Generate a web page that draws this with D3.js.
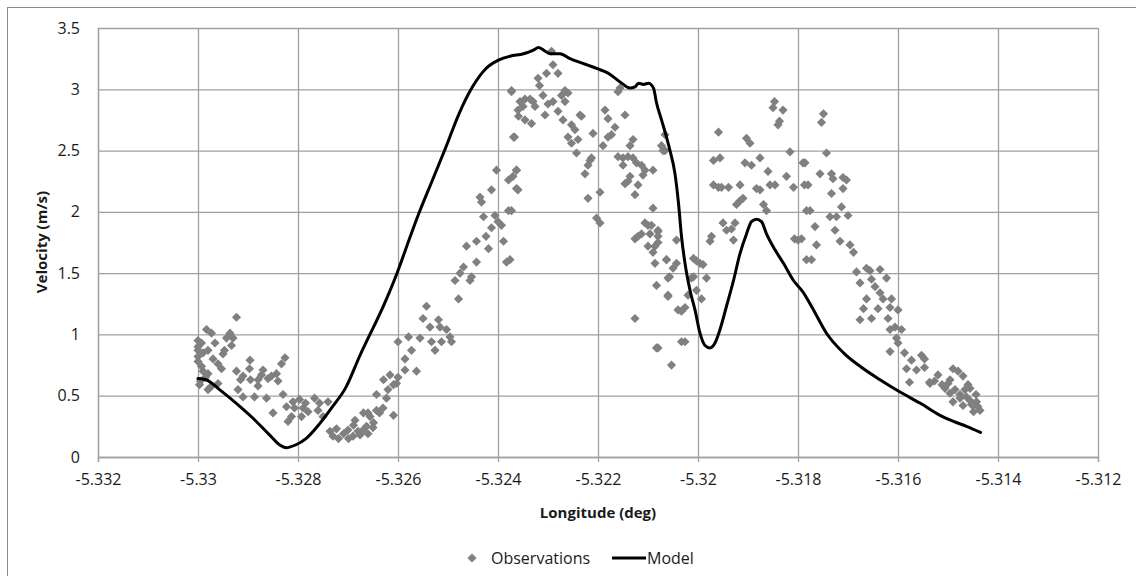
<!DOCTYPE html>
<html><head><meta charset="utf-8">
<script src="https://cdn.jsdelivr.net/npm/d3@7"></script>
<style>
html,body{margin:0;padding:0;background:#fff;}
svg{display:block;font-family:"Open Sans",sans-serif;}
</style></head>
<body>
<svg id="chart" width="1136" height="576"></svg>
<script>
const xTicks = [-5.332,-5.33,-5.328,-5.326,-5.324,-5.322,-5.32,-5.318,-5.316,-5.314,-5.312];
const xTickLabels = ["-5.332","-5.33","-5.328","-5.326","-5.324","-5.322","-5.32","-5.318","-5.316","-5.314","-5.312"];
const yTicks = [0,0.5,1,1.5,2,2.5,3,3.5];
const yTickLabels = ["0","0.5","1","1.5","2","2.5","3","3.5"];
const xTitle = "Longitude (deg)";
const yTitle = "Velocity (m/s)";
const seriesNames = ["Observations","Model"];

// Observations: [longitude, velocity]
const observations = [
[-5.32923,1.14],[-5.32983,1.04],[-5.32973,1.01],[-5.32936,1.01],[-5.32943,0.97],[-5.32930,0.97],[-5.32993,0.93],[-5.32966,0.93],[-5.32933,0.91],[-5.33000,0.87],[-5.32980,0.87],[-5.32947,0.87],[-5.33000,0.82],[-5.32970,0.80],[-5.32896,0.79],[-5.32826,0.81],[-5.32833,0.76],[-5.32993,0.74],[-5.32953,0.72],[-5.32923,0.70],[-5.32897,0.72],[-5.32980,0.68],[-5.32873,0.67],[-5.32853,0.66],[-5.32843,0.68],[-5.32860,0.64],[-5.32915,0.63],[-5.32895,0.63],[-5.32880,0.63],[-5.32997,0.59],[-5.32960,0.60],[-5.32920,0.55],[-5.32880,0.58],[-5.32980,0.55],[-5.32910,0.49],[-5.32887,0.49],[-5.32863,0.48],[-5.32830,0.51],[-5.32797,0.47],[-5.32767,0.48],[-5.32850,0.36],[-5.32823,0.41],[-5.32807,0.40],[-5.32790,0.40],[-5.32813,0.33],[-5.32793,0.33],[-5.32780,0.37],[-5.32757,0.44],[-5.32750,0.33],[-5.32820,0.29],[-5.32740,0.45],[-5.32760,0.38],
[-5.33000,0.95],[-5.33000,0.90],[-5.32990,0.85],[-5.33000,0.78],[-5.32990,0.70],[-5.32985,0.65],[-5.32995,0.62],[-5.32975,0.57],[-5.32960,0.76],[-5.32950,0.84],[-5.32910,0.66],[-5.32870,0.71],[-5.32840,0.62],[-5.32810,0.45],[-5.32785,0.44],
[-5.32736,0.21],[-5.32723,0.23],[-5.32709,0.19],[-5.32699,0.15],[-5.32689,0.26],[-5.32676,0.18],[-5.32660,0.36],[-5.32663,0.25],[-5.32719,0.15],[-5.32686,0.30],[-5.32680,0.21],[-5.32669,0.36],[-5.32656,0.33],[-5.32649,0.28],[-5.32660,0.19],[-5.32643,0.38],[-5.32637,0.36],[-5.32609,0.34],[-5.32643,0.51],[-5.32623,0.48],[-5.32629,0.63],[-5.32616,0.67],[-5.32603,0.60],[-5.32609,0.59],
[-5.32730,0.17],[-5.32700,0.22],[-5.32690,0.17],[-5.32670,0.22],[-5.32650,0.24],[-5.32630,0.40],[-5.32620,0.55],[-5.32600,0.65],
[-5.32600,0.94],[-5.32579,0.98],[-5.32586,0.80],[-5.32573,0.87],[-5.32586,0.71],[-5.32563,0.70],[-5.32556,0.97],[-5.32550,1.13],[-5.32543,1.23],[-5.32536,1.06],[-5.32533,0.94],[-5.32526,0.87],[-5.32519,1.12],[-5.32516,1.06],[-5.32513,0.94],[-5.32503,1.04],[-5.32496,0.98],[-5.32493,0.94],[-5.32479,1.29],[-5.32486,1.44],[-5.32476,1.50],[-5.32469,1.55],[-5.32463,1.72],[-5.32456,1.44],[-5.32453,1.47],[-5.32443,1.59],[-5.32443,1.76],[-5.32436,2.12],[-5.32433,2.08],[-5.32429,1.96],[-5.32424,1.80],[-5.32419,1.70],[-5.32413,2.18],[-5.32413,1.87],[-5.32406,1.97],[-5.32403,2.34],[-5.32400,1.92],[-5.32393,1.89],[-5.32389,1.76],[-5.32383,1.59],[-5.32379,2.01],[-5.32379,2.26],[-5.32373,2.98],[-5.32369,2.61],[-5.32363,2.34],[-5.32359,2.78],[-5.32363,2.19],
[-5.32293,3.31],[-5.32290,3.20],[-5.32280,3.13],[-5.32303,3.13],[-5.32320,3.09],[-5.32317,3.03],[-5.32373,2.99],[-5.32310,2.95],[-5.32266,2.99],[-5.32260,2.97],[-5.32273,2.95],[-5.32290,2.90],[-5.32300,2.88],[-5.32356,2.90],[-5.32346,2.92],[-5.32336,2.92],[-5.32330,2.90],[-5.32326,2.86],[-5.32350,2.86],[-5.32360,2.83],[-5.32266,2.90],[-5.32280,2.82],[-5.32306,2.79],[-5.32346,2.75],[-5.32333,2.72],[-5.32270,2.75],[-5.32253,2.71],[-5.32233,2.78],[-5.32236,2.79],[-5.32246,2.67],[-5.32260,2.61],[-5.32253,2.56],[-5.32240,2.59],[-5.32243,2.48],[-5.32210,2.64],[-5.32186,2.83],[-5.32180,2.76],[-5.32166,2.69],[-5.32173,2.63],[-5.32180,2.61],[-5.32190,2.54],[-5.32213,2.44],[-5.32216,2.42],[-5.32220,2.38],[-5.32226,2.31],[-5.32367,2.61],[-5.32363,2.34],[-5.32370,2.29],[-5.32360,2.18],[-5.32373,2.01],[-5.32376,1.61],[-5.32220,2.11],[-5.32196,2.16],[-5.32203,1.95],[-5.32196,1.91],[-5.32156,3.01],[-5.32160,2.98],[-5.32146,2.79],[-5.32130,2.59],[-5.32136,2.54],[-5.32160,2.45],[-5.32150,2.44],[-5.32140,2.45],[-5.32130,2.44],[-5.32150,2.38],[-5.32123,2.40],[-5.32113,2.38],[-5.32106,2.34],[-5.32090,2.34],[-5.32110,2.30],[-5.32136,2.29],[-5.32140,2.25],[-5.32146,2.23],[-5.32120,2.22],[-5.32126,2.14],[-5.32066,2.63],[-5.32073,2.54],[-5.32066,2.50],[-5.32090,2.03],[-5.32106,1.91],[-5.32100,1.89],[-5.32093,1.89],[-5.32080,1.85],[-5.32113,1.82],[-5.32126,1.78],[-5.32120,1.80],[-5.32096,1.82],[-5.32100,1.72],[-5.32086,1.72],[-5.32080,1.75],[-5.32090,1.67],[-5.32086,1.58],[-5.32063,1.61],[-5.32060,1.46],[-5.32083,1.40],[-5.32060,1.31],[-5.32126,1.13],[-5.32083,0.89],
[-5.32070,2.50],[-5.32080,1.84],[-5.32080,1.80],[-5.32043,1.77],[-5.32063,1.61],[-5.32043,1.58],[-5.32050,1.54],[-5.32057,1.47],[-5.32009,1.62],[-5.32003,1.60],[-5.31996,1.58],[-5.31990,1.57],[-5.32009,1.47],[-5.32013,1.46],[-5.31983,1.46],[-5.32060,1.32],[-5.32020,1.32],[-5.32003,1.36],[-5.31993,1.29],[-5.32040,1.20],[-5.32033,1.19],[-5.32026,1.22],[-5.32033,0.94],[-5.32026,0.94],[-5.32053,0.75],[-5.32080,0.89],[-5.31959,2.65],[-5.31969,2.42],[-5.31956,2.44],[-5.31969,2.22],[-5.31959,2.20],[-5.31953,2.20],[-5.31939,2.20],[-5.31916,2.22],[-5.31950,1.91],[-5.31943,1.85],[-5.31933,1.86],[-5.31926,1.91],[-5.31929,1.77],[-5.31976,1.76],[-5.31973,1.80],[-5.31923,2.06],[-5.31916,2.09],[-5.31910,2.11],[-5.31903,2.60],[-5.31896,2.56],[-5.31906,2.40],[-5.31893,2.38],[-5.31876,2.44],[-5.31860,2.33],[-5.31883,2.19],[-5.31876,2.18],[-5.31869,2.06],[-5.31863,2.01],[-5.31856,2.22],[-5.31846,2.22],[-5.31847,2.90],[-5.31850,2.85],[-5.31830,2.83],[-5.31837,2.74],[-5.31840,2.71],[-5.31816,2.49],[-5.31823,2.29],[-5.31809,2.20],[-5.31807,1.78],[-5.31800,1.77],[-5.31790,2.40],[-5.31787,2.22],[-5.31783,2.01],[-5.31783,1.61],
[-5.31749,2.80],[-5.31753,2.73],[-5.31743,2.48],[-5.31786,2.40],[-5.31756,2.31],[-5.31733,2.31],[-5.31730,2.27],[-5.31710,2.28],[-5.31703,2.26],[-5.31780,2.22],[-5.31710,2.19],[-5.31733,2.15],[-5.31776,2.01],[-5.31713,2.04],[-5.31736,1.96],[-5.31723,1.96],[-5.31700,1.97],[-5.31766,1.88],[-5.31726,1.85],[-5.31793,1.78],[-5.31716,1.76],[-5.31763,1.73],[-5.31696,1.73],[-5.31689,1.67],[-5.31773,1.61],[-5.31683,1.51],[-5.31663,1.54],[-5.31656,1.52],[-5.31636,1.53],[-5.31676,1.42],[-5.31653,1.45],[-5.31646,1.39],[-5.31623,1.46],[-5.31636,1.34],[-5.31663,1.29],[-5.31630,1.29],[-5.31613,1.29],[-5.31669,1.21],[-5.31640,1.21],[-5.31616,1.22],[-5.31600,1.20],[-5.31676,1.12],[-5.31653,1.13],[-5.31620,1.13],[-5.31616,1.04],[-5.31606,1.06],[-5.31593,1.04],[-5.31603,0.97],[-5.31600,0.93],[-5.31616,0.86],[-5.31587,0.85],[-5.31573,0.79],[-5.31553,0.83],[-5.31583,0.72],[-5.31563,0.71],[-5.31547,0.73],[-5.31577,0.61],[-5.31537,0.61],[-5.31527,0.62],[-5.31547,0.80],
[-5.31536,0.60],[-5.31506,0.56],[-5.31496,0.52],[-5.31490,0.45],[-5.31476,0.48],[-5.31463,0.49],[-5.31456,0.56],[-5.31443,0.45],[-5.31436,0.38],[-5.31449,0.37],[-5.31453,0.43],
[-5.31512,0.59],[-5.31496,0.63],[-5.31486,0.55],[-5.31476,0.51],[-5.31466,0.55],[-5.31456,0.46],[-5.31450,0.42],[-5.31470,0.42],[-5.31480,0.70],[-5.31490,0.72],[-5.31470,0.66],[-5.31440,0.41],[-5.31444,0.51],[-5.31520,0.67],[-5.31500,0.60],[-5.31460,0.59]
];

// Model: [longitude, velocity]
const model = [
[-5.33000,0.64],[-5.32984,0.63],[-5.32957,0.55],[-5.32924,0.44],[-5.32891,0.32],[-5.32857,0.18],[-5.32837,0.10],[-5.32824,0.076],[-5.32804,0.10],[-5.32784,0.15],[-5.32757,0.27],[-5.32731,0.41],[-5.32704,0.57],[-5.32677,0.82],[-5.32624,1.28],[-5.32601,1.51],[-5.32578,1.77],[-5.32558,1.99],[-5.32531,2.26],[-5.32504,2.53],[-5.32478,2.80],[-5.32451,3.02],[-5.32424,3.17],[-5.32398,3.24],[-5.32376,3.27],[-5.32349,3.29],[-5.32329,3.32],[-5.32319,3.34],[-5.32309,3.32],[-5.32296,3.29],[-5.32276,3.29],[-5.32256,3.25],[-5.32229,3.21],[-5.32203,3.17],[-5.32179,3.13],[-5.32156,3.06],[-5.32136,3.01],[-5.32126,3.02],[-5.32119,3.05],[-5.32109,3.04],[-5.32099,3.05],[-5.32089,3.01],[-5.32083,2.89],[-5.32073,2.75],[-5.32063,2.61],[-5.32056,2.50],[-5.32046,2.31],[-5.32039,2.07],[-5.32033,1.80],[-5.32026,1.58],[-5.32016,1.36],[-5.32006,1.20],[-5.31996,1.01],[-5.31986,0.91],[-5.31976,0.89],[-5.31966,0.93],[-5.31956,1.04],[-5.31943,1.23],[-5.31929,1.44],[-5.31916,1.66],[-5.31903,1.82],[-5.31893,1.92],[-5.31883,1.94],[-5.31873,1.92],[-5.31863,1.82],[-5.31846,1.69],[-5.31829,1.58],[-5.31809,1.44],[-5.31789,1.34],[-5.31776,1.25],[-5.31769,1.20],[-5.31743,1.01],[-5.31709,0.85],[-5.31676,0.74],[-5.31636,0.63],[-5.31596,0.53],[-5.31556,0.44],[-5.31516,0.34],[-5.31489,0.29],[-5.31463,0.25],[-5.31435,0.20]
];

const svg = d3.select("#chart");
const W = 1136, H = 576;
const plot = {left: 98, right: 1098, top: 28, bottom: 457};
const x = d3.scaleLinear().domain([-5.332, -5.312]).range([plot.left, plot.right]);
const y = d3.scaleLinear().domain([0, 3.5]).range([plot.bottom, plot.top]);
const gridColor = "#a0a0a0";
const textColor = "#1a1a1a";

svg.append("rect").attr("x",0).attr("y",0).attr("width",W).attr("height",H).attr("fill","#fff");
// outer chart frame (extends beyond the picture on right/bottom)
svg.append("rect").attr("x",7.5).attr("y",7.5).attr("width",W+20).attr("height",H+20)
  .attr("fill","none").attr("stroke","#8c8c8c").attr("stroke-width",1);

// gridlines
const gx = svg.append("g").attr("transform",`translate(0,${plot.bottom})`)
  .call(d3.axisBottom(x).tickValues(xTicks).tickSize(-(plot.bottom-plot.top)).tickFormat(""));
gx.select(".domain").remove();
gx.selectAll("line").attr("stroke",gridColor).attr("stroke-width",1.3);
const gy = svg.append("g").attr("transform",`translate(${plot.left},0)`)
  .call(d3.axisLeft(y).tickValues(yTicks).tickSize(-(plot.right-plot.left)).tickFormat(""));
gy.select(".domain").remove();
gy.selectAll("line").attr("stroke",gridColor).attr("stroke-width",1.3);

// x axis with ticks and labels
const ax = svg.append("g").attr("transform",`translate(0,${plot.bottom})`)
  .call(d3.axisBottom(x).tickValues(xTicks).tickSize(5).tickPadding(12)
    .tickFormat((d,i)=>xTickLabels[i]));
ax.select(".domain").attr("stroke",gridColor).attr("stroke-width",1.3);
ax.selectAll("line").attr("stroke",gridColor).attr("stroke-width",1.3);
ax.selectAll("text").attr("fill",textColor).style("font-size","16px").style("font-family","'Open Sans',sans-serif");

const ay = svg.append("g").attr("transform",`translate(${plot.left},0)`)
  .call(d3.axisLeft(y).tickValues(yTicks).tickSize(0).tickPadding(18)
    .tickFormat((d,i)=>yTickLabels[i]));
ay.select(".domain").attr("stroke",gridColor).attr("stroke-width",1.3);
ay.selectAll("text").attr("fill",textColor).style("font-size","16px").style("font-family","'Open Sans',sans-serif");

// titles
svg.append("text").attr("x",598).attr("y",518).attr("text-anchor","middle")
  .attr("fill",textColor).style("font-size","15px").style("font-weight","bold").text(xTitle);
svg.append("text").attr("transform","translate(47,242) rotate(-90)").attr("text-anchor","middle")
  .attr("fill",textColor).style("font-size","15px").style("font-weight","bold").text(yTitle);

// observations
const diamond = d3.symbol().type(d3.symbolSquare).size(42);
svg.append("g").selectAll("path").data(observations).join("path")
  .attr("d", diamond)
  .attr("transform", d => `translate(${x(d[0])},${y(d[1])}) rotate(45)`)
  .attr("fill", "#808080");

// model
const line = d3.line().x(d=>x(d[0])).y(d=>y(d[1])).curve(d3.curveMonotoneX);
svg.append("path").datum(model).attr("d",line).attr("fill","none")
  .attr("stroke","#000").attr("stroke-width",3).attr("stroke-linejoin","round").attr("stroke-linecap","round");

// legend
const lg = svg.append("g");
lg.append("path").attr("d",diamond).attr("transform","translate(472,558) rotate(45)").attr("fill","#808080");
lg.append("text").attr("x",491).attr("y",564).attr("fill",textColor).style("font-size","16px").text(seriesNames[0]);
lg.append("line").attr("x1",612).attr("x2",646).attr("y1",558).attr("y2",558).attr("stroke","#000").attr("stroke-width",3);
lg.append("text").attr("x",647).attr("y",564).attr("fill",textColor).style("font-size","16px").text(seriesNames[1]);
</script>
</body></html>
